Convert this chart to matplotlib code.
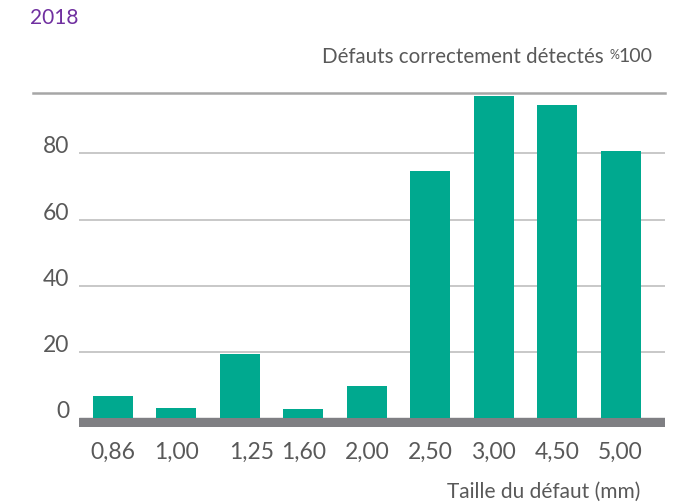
import matplotlib
matplotlib.use("Agg")
import matplotlib.pyplot as plt
import matplotlib.transforms as mtransforms

categories = ["0,86", "1,00", "1,25", "1,60", "2,00", "2,50", "3,00", "4,50", "5,00"]
values = [6.7, 3.0, 19.4, 2.7, 9.7, 74.8, 97.3, 94.5, 80.6]
yticks = [0, 20, 40, 60, 80]
title = "2018"
ylabel = "Défauts correctement détectés"
xlabel = "Taille du défaut (mm)"

TEAL = "#00A98F"
TXT = "#595959"
FONT = "Lato"
FS = 15
TFS = 16.5

plt.rcParams['font.family'] = [FONT, 'DejaVu Sans']

fig = plt.figure(figsize=(6.97, 5.04), dpi=100)
ax = fig.add_axes([0.1133, 0.1518, 0.8408, 0.6643])

x = list(range(len(categories)))
ax.bar(x, values, width=0.63, color=TEAL, zorder=3)
ax.set_xlim(-0.536, 8.70)
ax.set_ylim(-2.8, 98.3)

for s in ax.spines.values():
    s.set_visible(False)

# gridlines
for t in yticks[1:]:
    ax.axhline(t, color="#BFBFBF", lw=1.2, zorder=1)
# top line extended to the left
ax.plot([-0.0785, 1.0], [1.0, 1.0], transform=ax.transAxes, color="#A6A6A6",
        lw=1.8, clip_on=False, zorder=1)
# baseline
ax.axhspan(-2.8, 0, color="#7F7F83", zorder=2)

ax.set_yticks(yticks)
ax.set_yticklabels([str(t) for t in yticks])
ax.tick_params(axis='y', length=0, pad=7, labelsize=TFS, labelcolor=TXT)
for lab in ax.get_yticklabels():
    lab.set_verticalalignment('baseline')

ax.set_xticks(x)
ax.set_xticklabels(categories)
ax.tick_params(axis='x', length=0, pad=10, labelsize=TFS, labelcolor=TXT)
labs = ax.get_xticklabels()
offset = mtransforms.ScaledTranslation(12 / 100, 0, fig.dpi_scale_trans)
labs[2].set_transform(labs[2].get_transform() + offset)

fig.text(30 / 697, 1 - 18 / 504, title, color="#7030A0", fontsize=FS,
         ha='left', va='center')
fig.text(604 / 697, 1 - 57 / 504, ylabel, color=TXT, fontsize=14.8,
         ha='right', va='center')
fig.text(619 / 697, 1 - 55 / 504, "%", color=TXT, fontsize=9,
         ha='right', va='center')
fig.text(652 / 697, 1 - 57 / 504, "100", color=TXT, fontsize=14,
         ha='right', va='center')
fig.text(640 / 697, 1 - 492 / 504, xlabel, color=TXT, fontsize=FS,
         ha='right', va='center')

fig.savefig("out.png", dpi=100)
